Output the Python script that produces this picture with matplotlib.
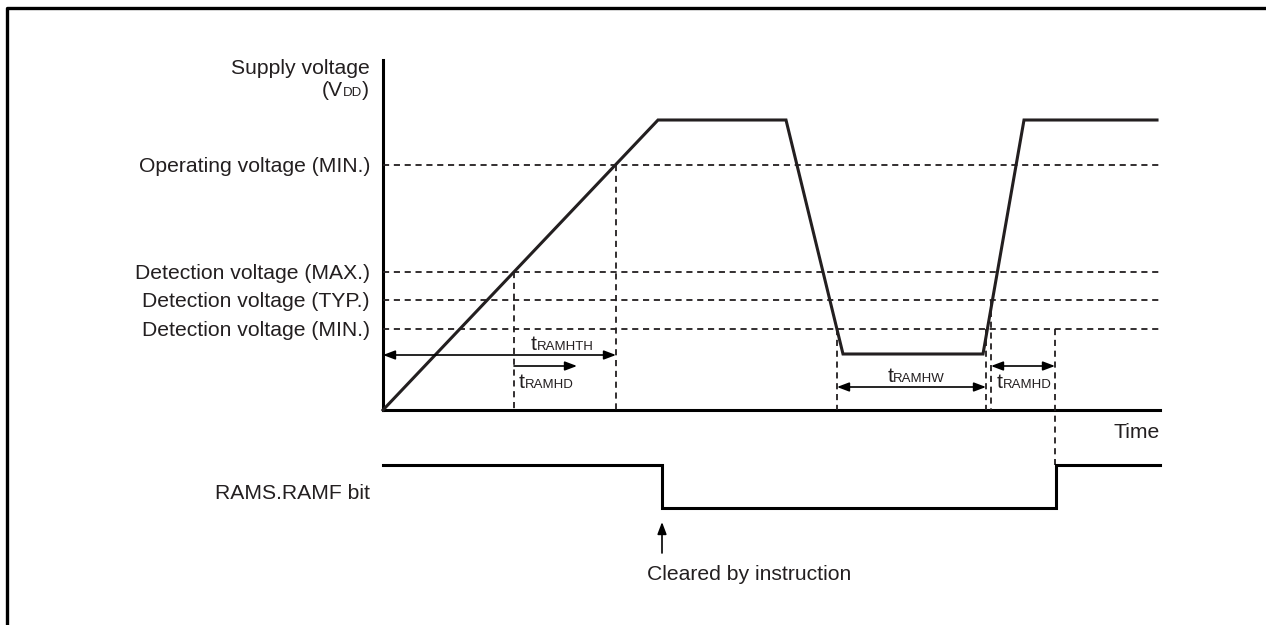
import matplotlib.pyplot as plt
from matplotlib.offsetbox import TextArea, HPacker, AnnotationBbox

plt.rcParams['font.family'] = ['Liberation Sans', 'DejaVu Sans']

# drawing is laid out in pixel-like units, y grows downwards
W, H = 1266, 625
ink = '#231f20'

# supply voltage waveform
vdd_time = [383, 658, 786, 843, 983, 1024, 1157]
vdd_level = [410, 120, 120, 354, 354, 120, 120]

# RAMS.RAMF bit waveform
ramf_time = [383, 662, 662, 1056, 1056, 1160]
ramf_level = [465, 465, 508, 508, 465, 465]

# axes of the voltage plot
axis_x0, axis_x1 = 383, 1160
axis_top, axis_base = 60, 410

# threshold levels
threshold_names = ["Operating voltage (MIN.)", "Detection voltage (MAX.)",
                   "Detection voltage (TYP.)", "Detection voltage (MIN.)"]
threshold_levels = [165, 272, 300, 329]

# vertical dashed markers
marker_x = [514, 616, 837, 986, 991, 1055]
marker_top = [272, 165, 329, 329, 300, 329]
marker_bottom = [410, 410, 410, 410, 410, 465]

# timing arrows and their labels
arrow_start = [383, 514, 837, 991]
arrow_end = [616, 577, 986, 1055]
arrow_y = [355, 366, 387, 366]
arrow_style = ['<|-|>', '-|>', '<|-|>', '<|-|>']
arrow_labels = ['RAMHTH', 'RAMHD', 'RAMHW', 'RAMHD']
label_x = [562, 546, 916, 1024]
label_y = [345, 383, 377, 382]

fig = plt.figure(figsize=(12.66, 6.25), dpi=100)
ax = fig.add_axes([0, 0, 1, 1])
ax.set_xlim(0, W)
ax.set_ylim(H, 0)
ax.axis('off')

# outer frame (top and left only)
ax.plot([7, 7, W], [H, 8, 8], color='black', lw=2.4, solid_capstyle='butt')

# axes
ax.plot([axis_x0, axis_x0], [axis_top, axis_base], color='black', lw=2.2)
ax.plot([axis_x0, axis_x1], [axis_base, axis_base], color='black', lw=2.2)

dash = dict(color=ink, lw=1.3, dashes=(3.4, 2.6))
for name, lvl in zip(threshold_names, threshold_levels):
    ax.plot([axis_x0, axis_x1], [lvl, lvl], **dash)
    ax.text(370, lvl + 7, name, ha='right', va='baseline', fontsize=15.2, color=ink)

for x, y0, y1 in zip(marker_x, marker_top, marker_bottom):
    ax.plot([x, x], [y0, y1], **dash)

ax.plot(vdd_time, vdd_level, color=ink, lw=2.2, solid_joinstyle='miter')
ax.plot(ramf_time, ramf_level, color='black', lw=2.2, solid_joinstyle='miter')

for x0, x1, y, st in zip(arrow_start, arrow_end, arrow_y, arrow_style):
    ax.annotate('', xy=(x1, y), xytext=(x0, y),
                arrowprops=dict(arrowstyle=st + ',head_length=0.45,head_width=0.17',
                                mutation_scale=16, color='black', lw=1.2,
                                shrinkA=0, shrinkB=0))


def sub_label(x, y, parts, align=(0.5, 0.5)):
    boxes = [TextArea(txt, textprops=dict(size=sz, color=ink)) for txt, sz in parts]
    pack = HPacker(children=boxes, align='baseline', pad=0, sep=0)
    ab = AnnotationBbox(pack, (x, y), frameon=False, box_alignment=align, pad=0)
    ax.add_artist(ab)


for x, y, lab in zip(label_x, label_y, arrow_labels):
    sub_label(x, y, [('t', 15.2), (lab, 9.5)])

ax.text(370, 74, "Supply voltage", ha='right', va='baseline', fontsize=15.2, color=ink)
sub_label(369, 90, [('(V', 15.2), ('DD', 9.5), (')', 15.2)], align=(1, 0.5))

ax.text(1160, 438, "Time", ha='right', va='baseline', fontsize=15.2, color=ink)
ax.text(370, 499, "RAMS.RAMF bit", ha='right', va='baseline', fontsize=15.2, color=ink)
ax.text(647, 580, "Cleared by instruction", ha='left', va='baseline', fontsize=15.2, color=ink)

ax.annotate('', xy=(662, 522), xytext=(662, 553),
            arrowprops=dict(arrowstyle='-|>,head_length=0.45,head_width=0.17',
                            mutation_scale=16, color='black', lw=1.2,
                            shrinkA=0, shrinkB=0))

fig.savefig('out.png', dpi=100)
